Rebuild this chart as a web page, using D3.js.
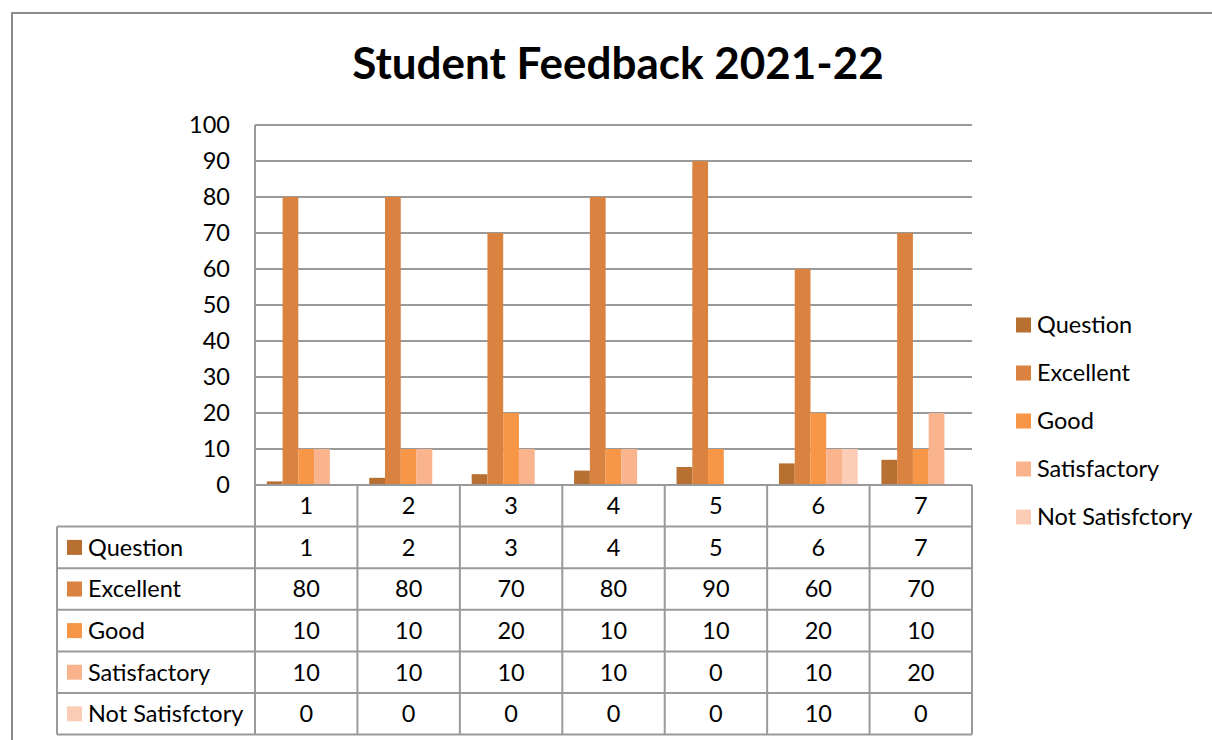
<!DOCTYPE html>
<html>
<head>
<meta charset="utf-8">
<script src="https://cdn.jsdelivr.net/npm/d3@7"></script>
<style>
  body { margin: 0; background: #fff; }
  text { font-family: Lato, "Open Sans", sans-serif; fill: #000; }
</style>
</head>
<body>
<div id="chart"></div>
<script>
// chart data
const categories = ["1", "2", "3", "4", "5", "6", "7"];
const seriesNames = ["Question", "Excellent", "Good", "Satisfactory", "Not Satisfctory"];
const question = [1, 2, 3, 4, 5, 6, 7];
const excellent = [80, 80, 70, 80, 90, 60, 70];
const good = [10, 10, 20, 10, 10, 20, 10];
const satisfactory = [10, 10, 10, 10, 0, 10, 20];
const notSatisfactory = [0, 0, 0, 0, 0, 10, 0];
const yTicks = [0, 10, 20, 30, 40, 50, 60, 70, 80, 90, 100];

const seriesValues = [question, excellent, good, satisfactory, notSatisfactory];
const seriesColors = ["#b86f32", "#da8340", "#f79646", "#f9b48e", "#fbcdb7"];

const width = 1212;
const height = 740;
const gridColor = "#9a9a9a";
const labelSize = "23.5px";

// plot area
const plotLeft = 255, plotRight = 972, plotTop = 125, plotBottom = 485;
const tableLeft = 57, rowH = 41.6;

const svg = d3.select("#chart")
    .append("svg")
    .attr("width", width)
    .attr("height", height);

// outer chart frame (runs off the picture on right and bottom)
svg.append("rect")
    .attr("x", 12).attr("y", 13)
    .attr("width", width + 20).attr("height", height + 20)
    .attr("fill", "none")
    .attr("stroke", "#8c8c8c")
    .attr("stroke-width", 2);

svg.append("text")
    .attr("x", 618).attr("y", 79)
    .attr("text-anchor", "middle")
    .style("font-size", "44px")
    .style("font-weight", "bold")
    .text("Student Feedback 2021-22");

const x = d3.scaleBand()
    .domain(categories)
    .range([plotLeft, plotRight]);

// 150% gap width -> 0.75 bar width on each side
const xSub = d3.scaleBand()
    .domain(seriesNames)
    .range([0, x.bandwidth()])
    .paddingInner(0)
    .paddingOuter(0.75);

const y = d3.scaleLinear()
    .domain([0, 100])
    .range([plotBottom, plotTop]);

const color = d3.scaleOrdinal()
    .domain(seriesNames)
    .range(seriesColors);

// gridlines
svg.append("g")
    .selectAll("line")
    .data(yTicks)
    .join("line")
    .attr("x1", plotLeft).attr("x2", plotRight)
    .attr("y1", d => y(d)).attr("y2", d => y(d))
    .attr("stroke", gridColor)
    .attr("stroke-width", 2);

// y axis line
svg.append("line")
    .attr("x1", plotLeft).attr("x2", plotLeft)
    .attr("y1", plotTop).attr("y2", plotBottom)
    .attr("stroke", gridColor)
    .attr("stroke-width", 2);

// y labels
svg.append("g")
    .selectAll("text")
    .data(yTicks)
    .join("text")
    .attr("x", 230)
    .attr("y", d => y(d))
    .attr("dy", "0.36em")
    .attr("text-anchor", "end")
    .style("font-size", labelSize)
    .text(d => d);

// bars
const barData = [];
seriesNames.forEach((s, i) => {
    categories.forEach((c, j) => {
        barData.push({ series: s, cat: c, value: seriesValues[i][j] });
    });
});

svg.append("g")
    .selectAll("rect")
    .data(barData.filter(d => d.value > 0))
    .join("rect")
    .attr("x", d => x(d.cat) + xSub(d.series))
    .attr("width", xSub.bandwidth())
    .attr("y", d => y(d.value))
    .attr("height", d => y(0) - y(d.value))
    .attr("fill", d => color(d.series));

// data table
const table = svg.append("g");
const nRows = seriesNames.length;
const tableBottom = plotBottom + rowH * (nRows + 1);

// horizontal lines
const rowLines = d3.range(nRows + 2);
table.selectAll(".hline")
    .data(rowLines)
    .join("line")
    .attr("x1", d => d < 1 ? plotLeft : tableLeft)
    .attr("x2", plotRight)
    .attr("y1", d => plotBottom + d * rowH)
    .attr("y2", d => plotBottom + d * rowH)
    .attr("stroke", gridColor)
    .attr("stroke-width", 2);

// vertical lines
const colEdges = categories.map(c => x(c)).concat([plotRight]);
table.selectAll(".vline")
    .data(colEdges)
    .join("line")
    .attr("x1", d => d).attr("x2", d => d)
    .attr("y1", plotBottom).attr("y2", tableBottom)
    .attr("stroke", gridColor)
    .attr("stroke-width", 2);

table.append("line")
    .attr("x1", tableLeft).attr("x2", tableLeft)
    .attr("y1", plotBottom + rowH).attr("y2", tableBottom)
    .attr("stroke", gridColor)
    .attr("stroke-width", 2);

// category header row
table.selectAll(".cat")
    .data(categories)
    .join("text")
    .attr("x", d => x(d) + x.bandwidth() / 2)
    .attr("y", plotBottom + rowH / 2)
    .attr("dy", "0.36em")
    .attr("text-anchor", "middle")
    .style("font-size", labelSize)
    .text(d => d);

// row labels with swatches
const rows = table.selectAll(".row")
    .data(seriesNames)
    .join("g")
    .attr("transform", (d, i) => `translate(0, ${plotBottom + rowH * (i + 1.5)})`);

rows.append("rect")
    .attr("x", 67).attr("y", -7.5)
    .attr("width", 15).attr("height", 15)
    .attr("fill", d => color(d));

rows.append("text")
    .attr("x", 88)
    .attr("dy", "0.36em")
    .style("font-size", labelSize)
    .text(d => d);

// cell values
table.selectAll(".cell")
    .data(barData)
    .join("text")
    .attr("x", d => x(d.cat) + x.bandwidth() / 2)
    .attr("y", d => plotBottom + rowH * (seriesNames.indexOf(d.series) + 1.5))
    .attr("dy", "0.36em")
    .attr("text-anchor", "middle")
    .style("font-size", labelSize)
    .text(d => d.value);

// legend on the right
const legend = svg.append("g")
    .selectAll("g")
    .data(seriesNames)
    .join("g")
    .attr("transform", (d, i) => `translate(1016, ${325 + i * 48})`);

legend.append("rect")
    .attr("y", -7.5)
    .attr("width", 15).attr("height", 15)
    .attr("fill", d => color(d));

legend.append("text")
    .attr("x", 21)
    .attr("dy", "0.36em")
    .style("font-size", labelSize)
    .text(d => d);
</script>
</body>
</html>
